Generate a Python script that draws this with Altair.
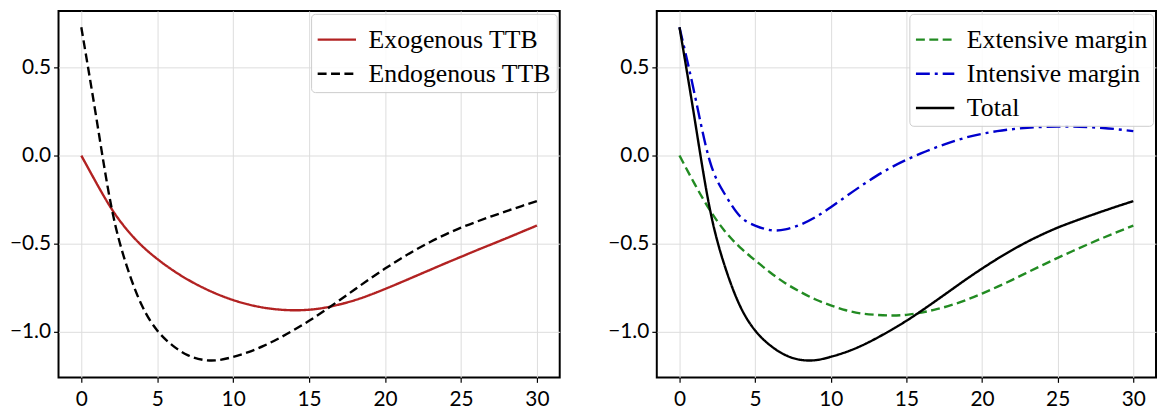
import altair as alt
import pandas as pd

# ---- data ----
t = list(range(0, 31))

exogenous_ttb = [0.0, -0.157, -0.304, -0.421, -0.514, -0.588, -0.651, -0.705, -0.751, -0.79,
                 -0.822, -0.847, -0.865, -0.876, -0.88, -0.877, -0.866, -0.847, -0.823, -0.793,
                 -0.759, -0.723, -0.686, -0.649, -0.612, -0.576, -0.54, -0.505, -0.47, -0.434, -0.398]

endogenous_ttb = [0.73, 0.21, -0.3, -0.63, -0.855, -0.995, -1.08, -1.135, -1.162, -1.164,
                  -1.145, -1.118, -1.083, -1.04, -0.992, -0.94, -0.883, -0.823, -0.762, -0.701,
                  -0.643, -0.588, -0.537, -0.49, -0.448, -0.41, -0.377, -0.346, -0.316, -0.287, -0.259]

extensive_margin = [0.0, -0.161, -0.309, -0.43, -0.522, -0.596, -0.665, -0.726, -0.776, -0.819,
                    -0.852, -0.88, -0.898, -0.906, -0.91, -0.906, -0.893, -0.874, -0.85, -0.82,
                    -0.785, -0.747, -0.707, -0.665, -0.623, -0.582, -0.543, -0.505, -0.468, -0.433, -0.398]

intensive_margin = [0.73, 0.35, -0.03, -0.22, -0.345, -0.398, -0.424, -0.42, -0.393, -0.35,
                    -0.294, -0.233, -0.173, -0.117, -0.067, -0.024, 0.014, 0.048, 0.078, 0.104,
                    0.124, 0.139, 0.15, 0.158, 0.163, 0.165, 0.165, 0.162, 0.157, 0.149, 0.139]

total = [0.73, 0.21, -0.3, -0.63, -0.855, -0.995, -1.08, -1.135, -1.162, -1.164,
         -1.145, -1.118, -1.083, -1.04, -0.992, -0.94, -0.883, -0.823, -0.762, -0.701,
         -0.643, -0.588, -0.537, -0.49, -0.448, -0.41, -0.377, -0.346, -0.316, -0.287, -0.259]

left_names = ["Exogenous TTB", "Endogenous TTB"]
left_colors = ["#b22222", "#000000"]
left_dashes = [[1, 0], [9, 4.5]]

right_names = ["Extensive margin", "Intensive margin", "Total"]
right_colors = ["#228b22", "#0000cd", "#000000"]
right_dashes = [[9, 4.5], [14, 5, 3, 5], [1, 0]]

x_ticks = [0, 5, 10, 15, 20, 25, 30]
y_ticks = [-1.0, -0.5, 0.0, 0.5]


def long_df(names, series):
    rows = []
    for n, s in zip(names, series):
        for xi, yi in zip(t, s):
            rows.append({"t": xi, "value": yi, "series": n})
    return pd.DataFrame(rows)


left_df = long_df(left_names, [exogenous_ttb, endogenous_ttb])
right_df = long_df(right_names, [extensive_margin, intensive_margin, total])

H = 370

x_enc = alt.X("t:Q", scale=alt.Scale(domain=[-1.5, 31.5], nice=False, zero=False),
              axis=alt.Axis(values=x_ticks, format="d", title=None))
y_enc = alt.Y("value:Q", scale=alt.Scale(domain=[-1.262, 0.823], nice=False, zero=False),
              axis=alt.Axis(values=y_ticks, format=".1f", title=None))


def panel(df, names, colors, dashes, w):
    return alt.Chart(df).mark_line(strokeWidth=2.4, interpolate="natural").encode(
        x=x_enc,
        y=y_enc,
        color=alt.Color("series:N", scale=alt.Scale(domain=names, range=colors),
                        sort=names, legend=alt.Legend(title=None)),
        strokeDash=alt.StrokeDash("series:N", scale=alt.Scale(domain=names, range=dashes),
                                  sort=names, legend=alt.Legend(title=None)),
        order=alt.Order("t:Q"),
    ).properties(width=w, height=H)


left = panel(left_df, left_names, left_colors, left_dashes, 506)
right = panel(right_df, right_names, right_colors, right_dashes, 504)

chart = alt.hconcat(left, right, spacing=46).resolve_scale(
    color="independent", strokeDash="independent"
).properties(
    padding={"left": 0, "top": 0, "right": 0, "bottom": 0}
).configure_view(
    stroke="#000000", strokeWidth=2
).configure_axis(
    domain=False,
    grid=True,
    gridColor="#dddddd",
    gridWidth=1,
    tickColor="#000000",
    tickSize=5,
    tickWidth=1.2,
    labelFont="Lato",
    labelFontSize=21,
    labelColor="#000000",
    labelPadding=3,
).configure_axisX(
    labelPadding=6,
).configure_legend(
    orient="top-right",
    offset=3,
    padding=5,
    fillColor="rgba(255,255,255,0.85)",
    strokeColor="#cccccc",
    cornerRadius=4,
    labelFont="Liberation Serif",
    labelFontSize=26,
    labelLimit=0,
    labelColor="#000000",
    symbolType="stroke",
    symbolSize=1500,
    symbolStrokeWidth=2.5,
    labelOffset=11,
    rowPadding=0.5,
)

chart.save("out.html", embed_options={"renderer": "svg", "actions": False})
